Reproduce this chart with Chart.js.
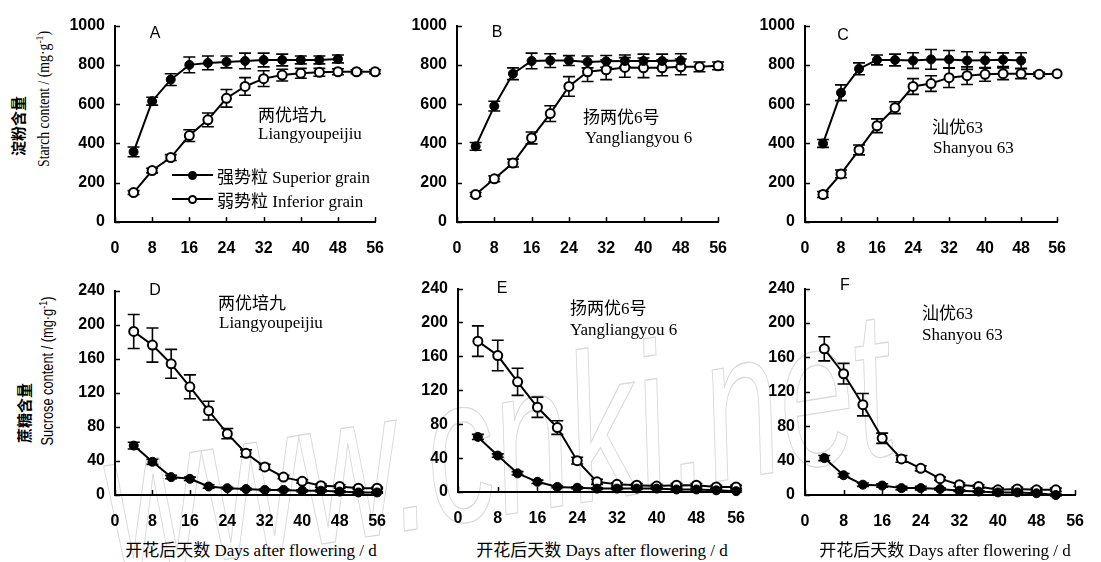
<!DOCTYPE html>
<html>
<head>
<meta charset="utf-8">
<script src="https://cdn.jsdelivr.net/npm/chart.js@4.4.1/dist/chart.umd.min.js"></script>
<style>
  body { margin: 0; background: #fff; }
  #fig { position: relative; width: 1101px; height: 562px; overflow: hidden; background: #fff; }
  canvas { position: absolute; z-index: 1; }
  .t { position: absolute; white-space: nowrap; color: #000; line-height: 1; z-index: 2; transform: translateY(-50%); }
  .letter { font: 16px 'Liberation Sans', Arial, sans-serif; transform: translate(-50%, -50%); }
  .var { font: 17px 'Liberation Serif', 'Noto Sans CJK SC', serif; }
  .xt { font: 17px 'Liberation Serif', 'Noto Sans CJK SC', serif; transform: translate(-50%, -50%); }
  .yt { transform: translate(-50%, -50%) rotate(-90deg); }
  .ycn { font: bold 15px 'Noto Sans CJK SC', sans-serif; }
  .yen1 { font: 16px 'Liberation Serif', serif; transform: translate(-50%, -50%) rotate(-90deg) scaleX(0.86); }
  .yen2 { font: 16px 'Liberation Sans', sans-serif; transform: translate(-50%, -50%) rotate(-90deg) scaleX(0.8); }
  sup { font-size: 70%; vertical-align: 0.5em; line-height: 0; }
  .lg { position: absolute; background: #000; z-index: 2; }
  .dot { position: absolute; width: 9px; height: 9px; border-radius: 50%; box-sizing: border-box; border: 2px solid #000; z-index: 3; }
  .wm { position: absolute; left: 112px; top: 384px; z-index: 0; white-space: nowrap; line-height: 1;
        font: italic 210px 'Liberation Sans', sans-serif; color: transparent;
        -webkit-text-stroke: 1.3px #d9d9d9; transform-origin: 0 178px; transform: rotate(-9deg) scaleX(0.65); }
</style>
</head>
<body>
<div id="fig">
  <div class="wm">www.cnki.net</div>
</div>
<script>
// days after flowering
const days = [4, 8, 12, 16, 20, 24, 28, 32, 36, 40, 44, 48, 52, 56];

// starch content (mg/g) — A Liangyoupeijiu
const starchSupA    = [357, 615, 725, 800, 810, 815, 820, 825, 825, 825, 825, 830];
const starchSupAErr = [25, 20, 30, 40, 35, 30, 40, 35, 30, 20, 20, 20];
const starchInfA    = [150, 262, 328, 440, 520, 630, 690, 730, 748, 757, 762, 765, 765, 765];
const starchInfAErr = [10, 12, 15, 30, 35, 45, 45, 40, 30, 25, 20, 15, 10, 10];
// B Yangliangyou 6
const starchSupB    = [385, 590, 755, 820, 822, 822, 815, 818, 820, 820, 820, 822];
const starchSupBErr = [20, 25, 30, 40, 35, 25, 30, 30, 30, 35, 35, 35];
const starchInfB    = [140, 220, 300, 428, 552, 690, 765, 775, 787, 785, 785, 790, 790, 795];
const starchInfBErr = [10, 15, 20, 30, 40, 50, 50, 50, 50, 50, 40, 40, 25, 20];
// C Shanyou 63
const starchSupC    = [400, 658, 780, 825, 825, 822, 828, 828, 822, 823, 826, 822];
const starchSupCErr = [20, 40, 30, 25, 30, 40, 50, 45, 45, 40, 35, 40];
const starchInfC    = [140, 245, 367, 490, 582, 690, 705, 735, 745, 752, 755, 755, 752, 755];
const starchInfCErr = [15, 20, 25, 35, 30, 40, 40, 50, 45, 35, 30, 25, 10, 0];

// sucrose content (mg/g) — D Liangyoupeijiu
const sucSupD    = [58, 39, 21, 19, 10, 8, 7, 6, 6, 5, 5, 4, 3, 3];
const sucSupDErr = [4, 3, 2, 2, 2, 1, 1, 1, 1, 1, 1, 1, 1, 1];
const sucInfD    = [192, 176, 154, 127, 99, 72, 49, 33, 21, 16, 11, 10, 8, 8];
const sucInfDErr = [20, 20, 17, 14, 11, 6, 4, 3, 2, 2, 2, 2, 1, 1];
// E Yangliangyou 6
const sucSupE    = [65, 43, 22, 12, 6, 5, 4, 4, 4, 4, 3, 3, 2, 1];
const sucSupEErr = [3, 2, 2, 2, 1, 1, 1, 1, 1, 1, 1, 1, 1, 1];
const sucInfE    = [178, 161, 130, 100, 76, 37, 12, 9, 8, 7, 8, 8, 6, 6];
const sucInfEErr = [18, 18, 16, 12, 8, 4, 3, 2, 2, 2, 2, 2, 2, 2];
// F Shanyou 63
const sucSupF    = [43, 23, 12, 11, 8, 8, 7, 5, 4, 3, 3, 2, 0];
const sucSupFErr = [3, 2, 2, 2, 2, 2, 1, 1, 1, 1, 1, 1, 1];
const sucInfF    = [170, 141, 105, 66, 42, 31, 19, 12, 10, 6, 7, 6, 6];
const sucInfFErr = [14, 12, 13, 6, 4, 3, 2, 2, 2, 2, 2, 2, 2];

const xTicks = [0, 8, 16, 24, 32, 40, 48, 56];

// plot rectangles in page px: [x of day 0, x of day 56, y of max, y of 0]
const YW = 50, PT = 12, PR = 16, XH = 40;
const panels = [
  { box: [115, 385, 18, 222], max: 1000, step: 200, sup: starchSupA, supErr: starchSupAErr, inf: starchInfA, infErr: starchInfAErr },
  { box: [457, 728, 18, 222], max: 1000, step: 200, sup: starchSupB, supErr: starchSupBErr, inf: starchInfB, infErr: starchInfBErr },
  { box: [805, 1067, 18, 222], max: 1000, step: 200, sup: starchSupC, supErr: starchSupCErr, inf: starchInfC, infErr: starchInfCErr },
  { box: [115, 387, 283, 495], max: 240, step: 40, sup: sucSupD, supErr: sucSupDErr, inf: sucInfD, infErr: sucInfDErr },
  { box: [458, 746, 281, 492], max: 240, step: 40, sup: sucSupE, supErr: sucSupEErr, inf: sucInfE, infErr: sucInfEErr },
  { box: [805, 1085, 281, 495], max: 240, step: 40, sup: sucSupF, supErr: sucSupFErr, inf: sucInfF, infErr: sucInfFErr },
];

const errorBars = {
  id: 'errorBars',
  beforeDatasetsDraw(chart) {
    const ctx = chart.ctx, ys = chart.scales.y;
    ctx.save();
    ctx.strokeStyle = '#000';
    ctx.lineWidth = 1.6;
    chart.data.datasets.forEach((ds, i) => {
      chart.getDatasetMeta(i).data.forEach((pt, j) => {
        const e = ds.errors[j];
        if (!e) return;
        const v = ds.data[j].y;
        const y1 = ys.getPixelForValue(v + e), y2 = ys.getPixelForValue(v - e);
        ctx.beginPath();
        ctx.moveTo(pt.x, y1); ctx.lineTo(pt.x, y2);
        ctx.moveTo(pt.x - 6, y1); ctx.lineTo(pt.x + 6, y1);
        ctx.moveTo(pt.x - 6, y2); ctx.lineTo(pt.x + 6, y2);
        ctx.stroke();
      });
    });
    ctx.restore();
  }
};

// tick marks pointing into the plot
const inwardTicks = {
  id: 'inwardTicks',
  afterDraw(chart) {
    const { ctx, chartArea: a, scales: { x, y } } = chart;
    ctx.save();
    ctx.strokeStyle = '#000';
    ctx.lineWidth = 1.5;
    ctx.beginPath();
    x.ticks.forEach(t => { const px = Math.round(x.getPixelForValue(t.value)) + 0.5; ctx.moveTo(px, a.bottom); ctx.lineTo(px, a.bottom - 5); });
    y.ticks.forEach(t => { const py = Math.round(y.getPixelForValue(t.value)) + 0.5; ctx.moveTo(a.left, py); ctx.lineTo(a.left + 5, py); });
    ctx.stroke();
    ctx.restore();
  }
};

const tickFont = { family: "'Liberation Sans', Arial, sans-serif", size: 16, weight: 'bold' };
const fig = document.getElementById('fig');

function series(vals, errs, filled) {
  return {
    data: vals.map((v, i) => ({ x: days[i], y: v })),
    errors: errs,
    borderColor: '#000', borderWidth: 2, tension: 0,
    pointRadius: 4.5, pointBorderWidth: filled ? 1 : 2,
    pointBackgroundColor: filled ? '#000' : '#fff', pointBorderColor: '#000',
    clip: false
  };
}

panels.forEach(p => {
  const [x0, x1, yt, yb] = p.box;
  const cv = document.createElement('canvas');
  cv.width = (x1 - x0) + YW + PR;
  cv.height = (yb - yt) + PT + XH;
  cv.style.left = (x0 - YW) + 'px';
  cv.style.top = (yt - PT) + 'px';
  fig.appendChild(cv);
  new Chart(cv, {
    type: 'line',
    data: { datasets: [series(p.sup, p.supErr, true), series(p.inf, p.infErr, false)] },
    options: {
      responsive: false, animation: false, events: [],
      layout: { padding: { top: PT, right: PR, left: 0, bottom: 0 } },
      plugins: { legend: { display: false }, tooltip: { enabled: false } },
      scales: {
        x: {
          type: 'linear', min: 0, max: 56,
          afterBuildTicks: s => { s.ticks = xTicks.map(v => ({ value: v })); },
          afterFit: s => { s.height = XH; },
          grid: { display: false, drawTicks: false, tickLength: 0 },
          border: { color: '#000', width: 2 },
          ticks: { color: '#000', font: tickFont, padding: 17, maxRotation: 0, autoSkip: false, callback: v => String(v) }
        },
        y: {
          min: 0, max: p.max,
          afterFit: s => { s.width = YW; },
          grid: { display: false, drawTicks: false, tickLength: 0 },
          border: { color: '#000', width: 2 },
          ticks: { color: '#000', font: tickFont, padding: 10, stepSize: p.step, callback: v => String(v) }
        }
      }
    },
    plugins: [errorBars, inwardTicks]
  });
});

// texts
function txt(cls, x, y, html) {
  const d = document.createElement('div');
  d.className = 't ' + cls;
  d.style.left = x + 'px';
  d.style.top = y + 'px';
  d.innerHTML = html;
  fig.appendChild(d);
}
[['A', 155, 33], ['B', 497, 32], ['C', 843, 35], ['D', 155, 290], ['E', 502, 288], ['F', 845, 285]]
  .forEach(([l, x, y]) => txt('letter', x, y, l));

txt('var', 258, 113, '两优培九'); txt('var', 258, 134, 'Liangyoupeijiu');
txt('var', 583, 115, '扬两优6号'); txt('var', 585, 138, 'Yangliangyou 6');
txt('var', 932, 125, '汕优63'); txt('var', 933, 148, 'Shanyou 63');
txt('var', 218, 301, '两优培九'); txt('var', 219, 323, 'Liangyoupeijiu');
txt('var', 570, 306, '扬两优6号'); txt('var', 570, 330, 'Yangliangyou 6');
txt('var', 922, 311, '汕优63'); txt('var', 922, 335, 'Shanyou 63');

txt('yt ycn', 17, 126, '淀粉含量');
txt('yen1', 44, 99, 'Starch content / (mg·g<sup>-1</sup>)');
txt('yt ycn', 23, 413, '蔗糖含量');
txt('yen2', 48, 371, 'Sucrose content / (mg·g<sup>-1</sup>)');

txt('xt', 251, 548, '开花后天数 Days after flowering / d');
txt('xt', 602, 548, '开花后天数 Days after flowering / d');
txt('xt', 945, 548, '开花后天数 Days after flowering / d');

// legend in panel A
function legendRow(y, filled, label) {
  const line = document.createElement('div');
  line.className = 'lg';
  Object.assign(line.style, { left: '172px', top: (y - 1) + 'px', width: '41px', height: '2px' });
  fig.appendChild(line);
  const dot = document.createElement('div');
  dot.className = 'dot';
  Object.assign(dot.style, { left: '188px', top: (y - 4.5) + 'px', background: filled ? '#000' : '#fff' });
  fig.appendChild(dot);
  txt('var', 217, y, label);
}
legendRow(175, true, '强势粒 Superior grain');
legendRow(199, false, '弱势粒 Inferior grain');
</script>
</body>
</html>
